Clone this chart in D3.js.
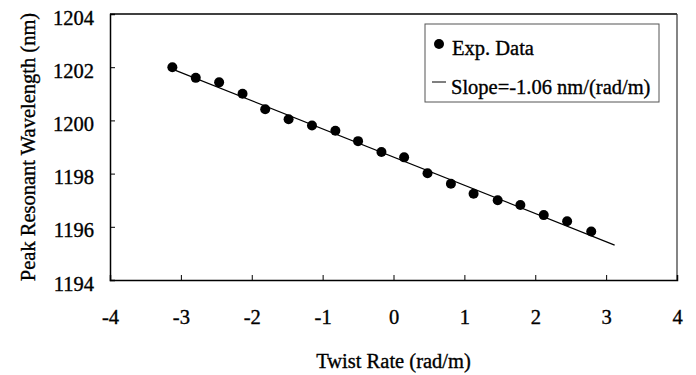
<!DOCTYPE html>
<html>
<head>
<meta charset="utf-8">
<script src="https://cdn.jsdelivr.net/npm/d3@7"></script>
<style>
  html, body { margin: 0; padding: 0; background: #fff; }
  svg { display: block; }
  svg text {
    font-family: "Liberation Serif", "Times New Roman", Times, serif !important;
    fill: #000; stroke: #000; stroke-width: 0.35px;
  }
</style>
</head>
<body>
<svg id="chart" width="696" height="375"></svg>
<script>
// Measured peak resonant wavelength versus applied twist rate
const twistRate = [-3.12, -2.79, -2.46, -2.13, -1.81, -1.48, -1.15, -0.82, -0.50, -0.17,
                   0.15, 0.48, 0.81, 1.13, 1.47, 1.79, 2.12, 2.45, 2.79];
const wavelength = [1202.0, 1201.6, 1201.43, 1201.0, 1200.42, 1200.04, 1199.81, 1199.61, 1199.22, 1198.81,
                    1198.61, 1198.01, 1197.62, 1197.24, 1197.0, 1196.82, 1196.44, 1196.21, 1195.82];

// Linear fit: slope and intercept, drawn over the fitted range
const fitSlope = -1.06;
const fitIntercept = 1198.62;
const fitRange = [-3.12, 3.12];

// Axis ticks
const xTicks = [-4, -3, -2, -1, 0, 1, 2, 3, 4];
const yTicks = [1194, 1196, 1198, 1200, 1202, 1204];

const legendLabels = ["Exp. Data", "Slope=-1.06 nm/(rad/m)"];
const xTitle = "Twist Rate (rad/m)";
const yTitle = "Peak Resonant Wavelength (nm)";

const FONT = "'Liberation Serif', 'Times New Roman', Times, serif";
const FS = "20.5px";

const svg = d3.select("#chart");
const plot = { left: 110, right: 677, top: 14, bottom: 280 };

const x = d3.scaleLinear().domain([-4, 4]).range([plot.left, plot.right]);
const y = d3.scaleLinear().domain([1194, 1204]).range([plot.bottom, plot.top]);

// Frame (top and right sides)
svg.append("line")
  .attr("x1", plot.left).attr("x2", plot.right)
  .attr("y1", plot.top).attr("y2", plot.top)
  .attr("stroke", "#000").attr("stroke-width", 1.5);
svg.append("line")
  .attr("x1", plot.right).attr("x2", plot.right)
  .attr("y1", plot.top).attr("y2", plot.bottom)
  .attr("stroke", "#333").attr("stroke-width", 1.2);

// Axes with inward ticks; plain hyphen for negatives
const fmt = d => String(d);
const xAxis = d3.axisBottom(x).tickValues(xTicks).tickSize(-5).tickPadding(0).tickFormat(fmt);
const yAxis = d3.axisLeft(y).tickValues(yTicks).tickSize(-5).tickPadding(0).tickFormat(fmt);

const gx = svg.append("g").attr("transform", `translate(0,${plot.bottom})`).call(xAxis);
const gy = svg.append("g").attr("transform", `translate(${plot.left},0)`).call(yAxis);

[gx, gy].forEach(g => {
  g.attr("font-family", FONT).attr("font-size", 20);
  g.select(".domain").attr("stroke", "#000").attr("stroke-width", 1.5);
  g.selectAll(".tick line").attr("stroke", "#000").attr("stroke-width", 1);
  g.selectAll(".tick text").style("font-family", FONT).style("font-size", FS);
});
gx.selectAll(".tick text").attr("y", 44).attr("dy", 0);
gy.selectAll(".tick text").attr("x", -16).attr("dy", 10);

// Fitted line
svg.append("line")
  .attr("x1", x(fitRange[0])).attr("y1", y(fitIntercept + fitSlope * fitRange[0]))
  .attr("x2", x(fitRange[1])).attr("y2", y(fitIntercept + fitSlope * fitRange[1]))
  .attr("stroke", "#000").attr("stroke-width", 1.2);

// Data points
svg.append("g").selectAll("circle")
  .data(d3.zip(twistRate, wavelength))
  .join("circle")
  .attr("cx", d => x(d[0]))
  .attr("cy", d => y(d[1]))
  .attr("r", 5)
  .attr("fill", "#000");

// Axis titles
svg.append("text")
  .attr("x", (plot.left + plot.right) / 2).attr("y", 368)
  .attr("text-anchor", "middle")
  .style("font-family", FONT).style("font-size", FS)
  .text(xTitle);
svg.append("text")
  .attr("transform", `translate(35,${(plot.top + plot.bottom) / 2}) rotate(-90)`)
  .attr("text-anchor", "middle")
  .style("font-family", FONT).style("font-size", FS)
  .text(yTitle);

// Legend
const legend = svg.append("g");
legend.append("rect")
  .attr("x", 425).attr("y", 24).attr("width", 234).attr("height", 78)
  .attr("fill", "#fff").attr("stroke", "#555").attr("stroke-width", 1);
legend.append("circle").attr("cx", 439).attr("cy", 44).attr("r", 5).attr("fill", "#000");
legend.append("line")
  .attr("x1", 432).attr("x2", 446).attr("y1", 82).attr("y2", 82)
  .attr("stroke", "#000").attr("stroke-width", 1);
legend.append("text").attr("x", 452).attr("y", 55)
  .style("font-family", FONT).style("font-size", FS).text(legendLabels[0]);
legend.append("text").attr("x", 451).attr("y", 94)
  .style("font-family", FONT).style("font-size", FS).text(legendLabels[1]);
</script>
</body>
</html>
